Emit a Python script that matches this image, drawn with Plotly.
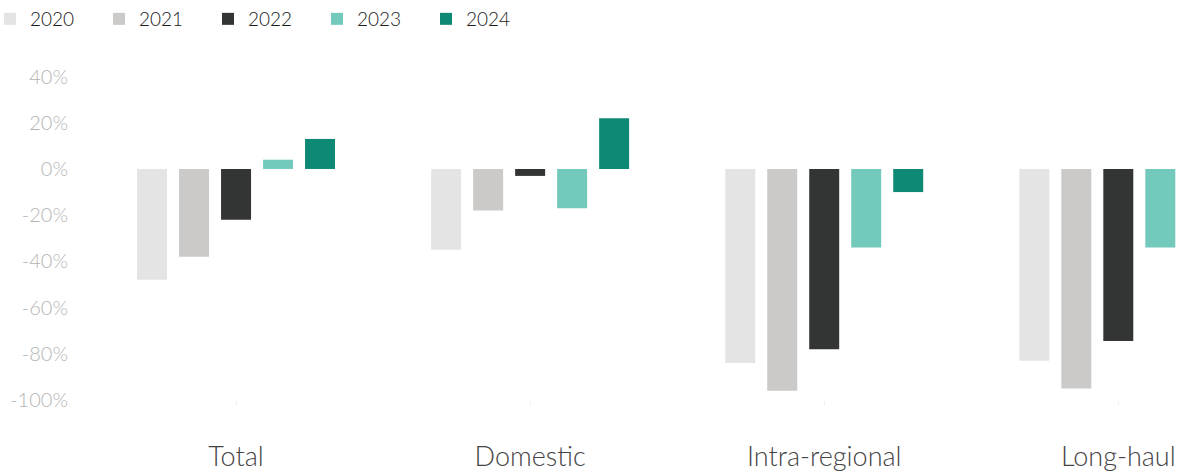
import plotly.graph_objects as go

categories = ["Total", "Domestic", "Intra-regional", "Long-haul"]
years = ["2020", "2021", "2022", "2023", "2024"]
v2020 = [-48, -35, -84, -83]
v2021 = [-38, -18, -96, -95]
v2022 = [-22, -3, -78, -74.5]
v2023 = [4, -17, -34, -34]
v2024 = [13, 22, -10, None]
colors = ["#e4e4e4", "#cbcac8", "#333534", "#72c9bc", "#0d8976"]
y_ticks = [40, 20, 0, -20, -40, -60, -80, -100]

series = [v2020, v2021, v2022, v2023, v2024]
fig = go.Figure()
for yr, vals, col in zip(years, series, colors):
    fig.add_trace(go.Bar(name=yr, x=categories, y=vals, marker_color=col,
                         marker_line_width=0))

fig.update_layout(
    width=1183, height=472,
    margin=dict(l=89, r=0, t=65, b=68),
    paper_bgcolor="white", plot_bgcolor="white",
    barmode="group", bargap=0.286, bargroupgap=0.286,
    font=dict(family="Lato, sans-serif"),
    legend=dict(orientation="h", xref="container", yref="container",
                x=0, y=1.0, xanchor="left", yanchor="top", indentation=-10,
                entrywidth=74, entrywidthmode="pixels",
                font=dict(size=19, color="#1a1a1a", weight=300), traceorder="normal"),
    showlegend=True,
)
fig.update_xaxes(range=[-0.5, 3.22], showgrid=False, showline=False, zeroline=False,
                 ticks="outside", ticklen=4, tickcolor="#f0f0f0",
                 tickfont=dict(size=27, color="#444444", weight=300), ticklabelstandoff=29)
fig.update_yaxes(range=[-100, 45], showgrid=False, zeroline=False, showline=False,
                 tickvals=y_ticks, ticktext=[f"{t}%" for t in y_ticks],
                 tickfont=dict(size=20, color="#b5b5b5", weight=300), ticklabelstandoff=20)

fig.write_html("out.html")
